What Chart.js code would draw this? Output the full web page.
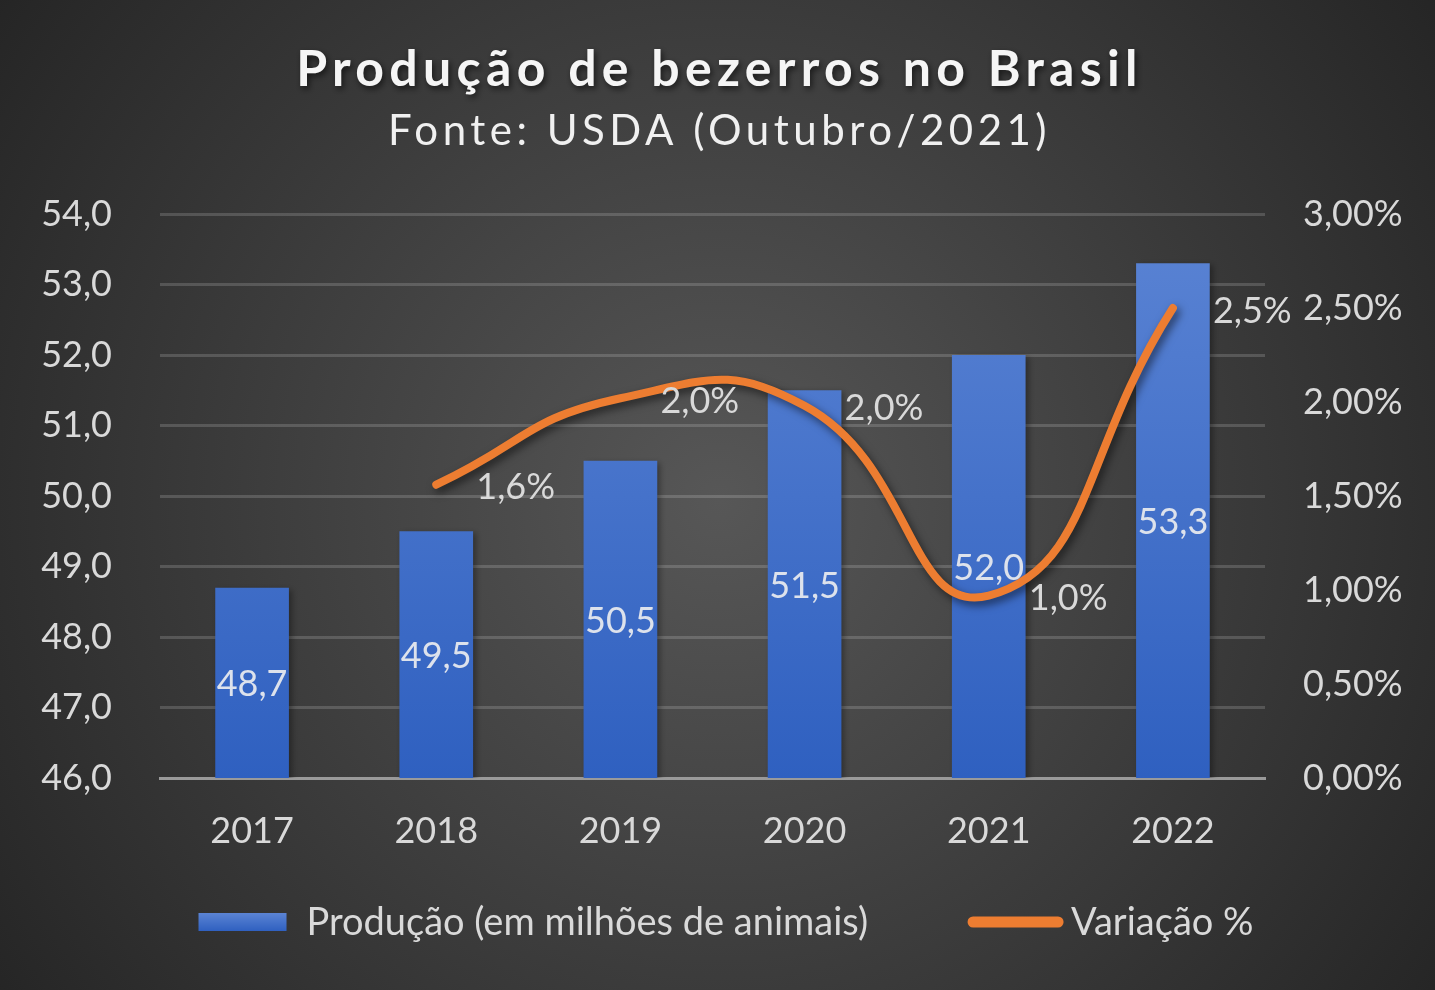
<!DOCTYPE html>
<html>
<head>
<meta charset="utf-8">
<script src="https://cdn.jsdelivr.net/npm/chart.js@4.4.1/dist/chart.umd.min.js"></script>
<style>
  html, body { margin: 0; padding: 0; background: #2b2b2b; }
  #wrap { width: 1435px; height: 990px; }
</style>
</head>
<body>
<div id="wrap"><canvas id="myChart" width="1435" height="990"></canvas></div>
<script>
// Dados do gráfico
const anos = ["2017", "2018", "2019", "2020", "2021", "2022"];
const producao = [48.7, 49.5, 50.5, 51.5, 52.0, 53.3];
const variacao = [null, 1.56, 2.02, 1.98, 0.97, 2.5]; // em %
const titulo = "Produção de bezerros no Brasil";
const subtitulo = "Fonte: USDA (Outubro/2021)";

const fonte = "Lato";
const corTexto = "#d9d9d9";
const corLinha = "#ed7d31";

const fmt = (v, d) => v.toFixed(d).replace(".", ",");

// gradiente das barras
function gradBarra(chart, top, bottom) {
  const area = chart.chartArea;
  if (!area) return "#4472c4";
  const g = chart.ctx.createLinearGradient(0, top ?? area.top, 0, bottom ?? area.bottom);
  g.addColorStop(0, "#5b84d4");
  g.addColorStop(1, "#2f60c0");
  return g;
}

// fundo + titulo
const fundo = {
  id: "fundo",
  beforeDraw(chart) {
    const { ctx, width, height } = chart;
    ctx.save();
    const g = ctx.createRadialGradient(720, 500, 0, 720, 500, 900);
    g.addColorStop(0, "#575757");
    g.addColorStop(1, "#242424");
    ctx.fillStyle = g;
    ctx.fillRect(0, 0, width, height);

    ctx.textAlign = "center";
    ctx.textBaseline = "middle";
    ctx.shadowColor = "rgba(0,0,0,0.6)";
    ctx.shadowBlur = 6;
    ctx.shadowOffsetX = 2;
    ctx.shadowOffsetY = 3;
    ctx.fillStyle = "#f5f5f5";
    ctx.letterSpacing = "5.3px";
    ctx.font = "bold 50px " + fonte;
    ctx.fillText(titulo, width / 2 + 2, 70);
    ctx.shadowColor = "transparent";
    ctx.letterSpacing = "4.5px";
    ctx.font = "42px " + fonte;
    ctx.fillStyle = "#f0f0f0";
    ctx.fillText(subtitulo, width / 2 + 2, 131);
    ctx.restore();
  }
};

// sombras das series
const sombras = {
  id: "sombras",
  beforeDatasetDraw(chart, args) {
    const ctx = chart.ctx;
    ctx.save();
    if (args.meta.type === "line") {
      ctx.shadowColor = "rgba(0,0,0,0.55)";
      ctx.shadowBlur = 8;
      ctx.shadowOffsetX = 3;
      ctx.shadowOffsetY = 4;
    } else {
      ctx.shadowColor = "rgba(0,0,0,0.35)";
      ctx.shadowBlur = 6;
      ctx.shadowOffsetX = 3;
      ctx.shadowOffsetY = 2;
    }
  },
  afterDatasetDraw(chart) {
    chart.ctx.restore();
  }
};

// rotulos de dados
const rotulos = {
  id: "rotulos",
  afterDatasetsDraw(chart) {
    const ctx = chart.ctx;
    const fundoY = chart.chartArea.bottom;
    ctx.save();
    ctx.font = "36px " + fonte;
    ctx.textBaseline = "middle";
    ctx.fillStyle = "#dde2ec";
    ctx.textAlign = "center";
    chart.getDatasetMeta(0).data.forEach((bar, i) => {
      const p = bar.getProps(["x", "y"], true);
      ctx.fillText(fmt(producao[i], 1), p.x, (p.y + fundoY) / 2 + 2);
    });
    ctx.fillStyle = corTexto;
    ctx.textAlign = "left";
    chart.getDatasetMeta(1).data.forEach((pt, i) => {
      if (variacao[i] == null) return;
      const p = pt.getProps(["x", "y"], true);
      ctx.fillText(fmt(variacao[i], 1) + "%", p.x + 40, p.y + 3);
    });
    ctx.restore();
  }
};

// legenda (desenhada à parte para controlar os espaçamentos)
const legenda = {
  id: "legenda",
  afterDraw(chart) {
    const ctx = chart.ctx;
    const ds = chart.data.datasets;
    const y = 922;
    ctx.save();
    ctx.font = "38px " + fonte;
    ctx.textBaseline = "middle";
    ctx.fillStyle = corTexto;
    const w0 = ctx.measureText(ds[0].label).width;
    const w1 = ctx.measureText(ds[1].label).width;
    const total = 88 + 20 + w0 + 100 + 95 + 8 + w1;
    let x = 726 - total / 2;
    ctx.fillStyle = gradBarra(chart, y - 9, y + 9);
    ctx.fillRect(x, y - 9, 88, 18);
    x += 88 + 20;
    ctx.fillStyle = corTexto;
    ctx.fillText(ds[0].label, x, y + 1);
    x += w0 + 100;
    ctx.strokeStyle = corLinha;
    ctx.lineWidth = 11;
    ctx.lineCap = "round";
    ctx.beginPath();
    ctx.moveTo(x + 5, y);
    ctx.lineTo(x + 90, y);
    ctx.stroke();
    x += 95 + 8;
    ctx.fillText(ds[1].label, x, y + 1);
    ctx.restore();
  }
};

const ctx = document.getElementById("myChart");
const myChart = new Chart(ctx, {
  data: {
    labels: anos,
    datasets: [
      {
        type: "bar",
        label: "Produção (em milhões de animais)",
        data: producao,
        yAxisID: "y",
        backgroundColor: (c) => gradBarra(c.chart),
        categoryPercentage: 0.8,
        barPercentage: 0.5,
        order: 2,
      },
      {
        type: "line",
        label: "Variação %",
        data: variacao,
        yAxisID: "y1",
        borderColor: corLinha,
        backgroundColor: corLinha,
        borderWidth: 8,
        borderCapStyle: "round",
        tension: 0.5,
        pointRadius: 0,
        order: 1,
      },
    ],
  },
  options: {
    responsive: false,
    animation: false,
    layout: { padding: { top: 214, left: 0, right: 0, bottom: 112 } },
    plugins: {
      title: { display: false },
      tooltip: { enabled: false },
      legend: { display: false },
    },
    scales: {
      x: {
        grid: { display: false, drawTicks: false },
        border: { color: "#9a9a9a", width: 3 },
        ticks: { color: corTexto, font: { family: fonte, size: 36 }, padding: 32 },
        afterFit(s) { s.height = 100; },
      },
      y: {
        position: "left",
        min: 46,
        max: 54,
        ticks: {
          stepSize: 1,
          color: corTexto,
          font: { family: fonte, size: 36 },
          padding: 48,
          callback: (v) => fmt(v, 1),
        },
        grid: {
          drawTicks: false,
          color: (c) => (c.index === 0 ? "transparent" : "rgba(255,255,255,0.16)"),
          lineWidth: 3,
        },
        border: { display: false },
        afterFit(s) { s.width = 160; },
      },
      y1: {
        position: "right",
        min: 0,
        max: 3,
        ticks: {
          stepSize: 0.5,
          color: corTexto,
          font: { family: fonte, size: 36 },
          padding: 38,
          callback: (v) => fmt(v, 2) + "%",
        },
        grid: { display: false, drawTicks: false },
        border: { display: false },
        afterFit(s) { s.width = 170; },
      },
    },
  },
  plugins: [fundo, sombras, rotulos, legenda],
});
</script>
</body>
</html>
